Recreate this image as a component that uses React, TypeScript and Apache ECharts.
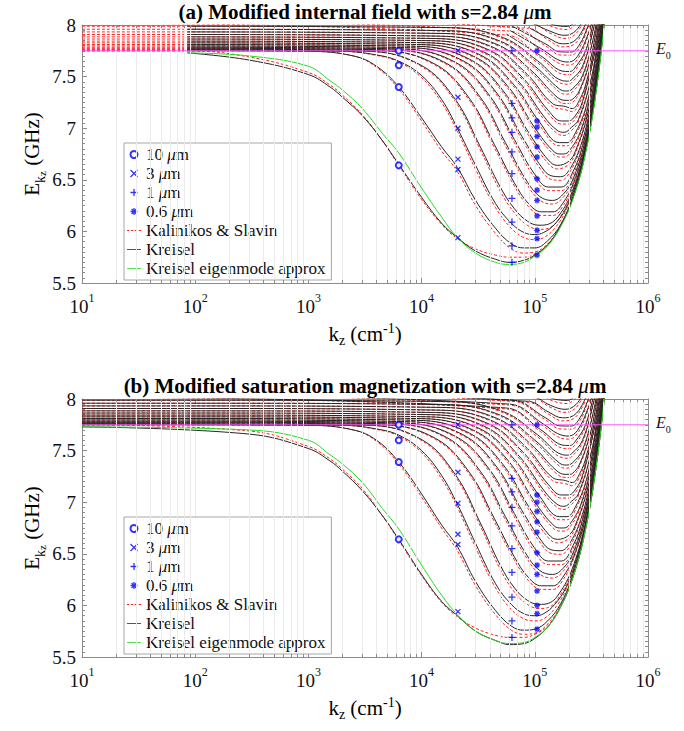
import React, { useEffect, useRef } from "react";
import * as echarts from "echarts";

const FONT = "Liberation Serif";
const AXIS_COLOR = "#8c8c8c";
const GRID_COLOR = "#ebebeb";
const BLUE = "#0000ff";
const RED = "#ff2020";
const BLACK = "#262626";
const GREEN_C = "#22dd22";
const E0 = 7.75;

// marker wavevectors (cm^-1)
const K_10UM = 6283;
const K_3UM = 20944;
const K_1UM = 62832;
const K_06UM = 104720;

const M10_A = [7.75, 7.61, 7.4, 6.64];
const M3_A = [7.75, 7.3, 7.0, 6.7, 6.6, 5.94];
const M1_A = [7.75, 7.24, 7.1, 6.96, 6.77, 6.56, 6.32, 6.09, 5.86, 5.7];
const M06_A = [7.75, 7.07, 7.01, 6.92, 6.82, 6.72, 6.51, 6.4, 6.3, 6.15, 6.01, 5.93, 5.77];
const M10_B = [7.75, 7.6, 7.39, 6.64];
const M3_B = [7.75, 7.29, 6.99, 6.69, 6.59, 5.94];
const M1_B = [7.75, 7.23, 7.1, 6.95, 6.77, 6.55, 6.32, 6.08, 5.85, 5.69];
const M06_B = [7.75, 7.07, 7.0, 6.91, 6.81, 6.71, 6.51, 6.39, 6.3, 6.14, 6.0, 5.92, 5.77];

// ---- Kreisel branches, panel (a): [k (cm^-1), E (GHz)]
const K0 = [[10, 7.73], [85, 7.73], [300, 7.66], [1000, 7.52], [1550, 7.4], [2000, 7.3], [3000, 7.12], [4500, 6.88], [6283, 6.65], [10000, 6.33], [15000, 6.08], [20700, 5.94], [30000, 5.81], [45000, 5.73], [60000, 5.7], [80000, 5.72], [100000, 5.77], [130000, 5.87], [170000, 6.06], [220000, 6.34], [280000, 6.76], [350000, 7.38], [420000, 8.12]];
const K1 = [[10, 7.75], [85, 7.75], [1000, 7.745], [2500, 7.7], [4000, 7.6], [6283, 7.4], [10000, 7.1], [15000, 6.82], [20700, 6.62], [30000, 6.3], [45000, 6.03], [62000, 5.88], [80000, 5.84], [100000, 5.84], [130000, 5.91], [170000, 6.07], [220000, 6.36], [280000, 6.79], [350000, 7.41], [420000, 8.15]];
const K2 = [[10, 7.756], [85, 7.756], [2000, 7.745], [4000, 7.71], [6283, 7.65], [10000, 7.51], [15000, 7.28], [20700, 7.0], [30000, 6.64], [45000, 6.27], [62000, 6.08], [80000, 5.99], [100000, 5.97], [120000, 5.99], [150000, 6.07], [190000, 6.23], [240000, 6.52], [300000, 6.96], [360000, 7.51], [420000, 8.16]];
const K3 = [[10, 7.76], [85, 7.76], [3300, 7.745], [9900, 7.61], [19800, 7.28], [33000, 6.82], [49500, 6.43], [66000, 6.22], [85800, 6.1], [108900, 6.06], [132000, 6.07], [170000, 6.18], [220000, 6.42], [280000, 6.82], [350000, 7.43], [420000, 8.17]];
const K4 = [[10, 7.767], [85, 7.767], [4400, 7.75], [13200, 7.62], [26400, 7.29], [44000, 6.84], [66000, 6.47], [88000, 6.27], [114400, 6.19], [145200, 6.19], [176000, 6.27], [220000, 6.47], [280000, 6.85], [350000, 7.45], [420000, 8.18]];
const K5 = [[10, 7.775], [85, 7.775], [5500, 7.758], [16500, 7.63], [33000, 7.3], [55000, 6.86], [82500, 6.51], [110000, 6.34], [143000, 6.3], [181500, 6.37], [220000, 6.52], [280000, 6.89], [350000, 7.48], [420000, 8.19]];
const K6 = [[10, 7.785], [85, 7.785], [6600, 7.768], [19800, 7.64], [39600, 7.32], [66000, 6.89], [99000, 6.56], [132000, 6.43], [171600, 6.43], [217800, 6.58], [264000, 6.83], [320000, 7.24], [380000, 7.8], [420000, 8.21]];
const K7 = [[10, 7.797], [85, 7.797], [7700, 7.78], [23100, 7.655], [46200, 7.34], [77000, 6.92], [115500, 6.62], [138600, 6.54], [169400, 6.53], [200200, 6.59], [254100, 6.83], [308000, 7.19], [360000, 7.64], [400000, 8.05]];
const K8 = [[10, 7.811], [85, 7.811], [8800, 7.794], [26400, 7.67], [52800, 7.36], [88000, 6.96], [132000, 6.69], [158400, 6.64], [200000, 6.68], [228800, 6.78], [290400, 7.12], [352000, 7.61], [400000, 8.09]];
const K9 = [[10, 7.827], [85, 7.827], [9900, 7.81], [29700, 7.69], [59400, 7.39], [99000, 7.01], [148500, 6.77], [173300, 6.75], [198000, 6.77], [257400, 6.99], [326700, 7.45], [380000, 7.93], [410000, 8.2]];
const K10 = [[10, 7.844], [85, 7.844], [11000, 7.828], [33000, 7.71], [66000, 7.415], [110000, 7.06], [165000, 6.86], [192500, 6.86], [220000, 6.92], [286000, 7.22], [363000, 7.82], [400000, 8.15]];
const K11 = [[10, 7.864], [85, 7.864], [12100, 7.848], [36300, 7.733], [72600, 7.447], [121000, 7.11], [157300, 6.98], [181500, 6.96], [211800, 7.01], [242000, 7.08], [314600, 7.48], [360000, 7.85], [390000, 8.13]];
const K12 = [[10, 7.885], [85, 7.885], [13200, 7.869], [39600, 7.757], [79200, 7.482], [132000, 7.17], [171600, 7.07], [198000, 7.07], [231000, 7.13], [264000, 7.26], [343200, 7.77], [380000, 8.09]];
const K13 = [[10, 7.908], [85, 7.908], [14300, 7.892], [42900, 7.784], [85800, 7.521], [143000, 7.24], [185900, 7.21], [214500, 7.19], [250000, 7.28], [286000, 7.45], [343200, 7.83], [370000, 8.06]];
const K14 = [[10, 7.933], [85, 7.933], [15400, 7.918], [46200, 7.813], [92400, 7.562], [154000, 7.31], [184800, 7.27], [200200, 7.27], [215600, 7.28], [246400, 7.36], [308000, 7.66], [350000, 7.96], [370000, 8.13]];
const K15 = [[10, 7.959], [85, 7.959], [16500, 7.945], [49500, 7.844], [99000, 7.606], [165000, 7.38], [189750, 7.36], [214500, 7.38], [264000, 7.51], [330000, 7.88], [360000, 8.11]];
const K16 = [[10, 7.988], [85, 7.988], [17600, 7.974], [52800, 7.877], [105600, 7.654], [176000, 7.46], [193600, 7.456], [211200, 7.47], [264000, 7.6], [334400, 7.99], [350000, 8.1]];
const K17 = [[10, 8.018], [56100, 7.913], [112200, 7.704], [187000, 7.55], [205700, 7.55], [224400, 7.58], [280500, 7.75], [336600, 8.08]];
const K18 = [[10, 8.051], [59400, 7.951], [118800, 7.758], [158400, 7.666], [198000, 7.641], [237600, 7.694], [297000, 7.918], [330000, 8.1]];
const K19 = [[10, 8.085], [62700, 7.99], [125400, 7.815], [167200, 7.74], [209000, 7.738], [250800, 7.818], [292600, 7.981], [310000, 8.06]];
const K20 = [[10, 8.158], [88000, 7.977], [132000, 7.874], [176000, 7.818], [220000, 7.84], [264000, 7.949], [297000, 8.088]];
const K21 = [[10, 8.195], [92400, 8.026], [138600, 7.937], [184800, 7.9], [231000, 7.946], [277200, 8.086]];
const K22 = [[10, 8.24], [100000, 8.07], [145200, 8.003], [193600, 7.986], [242000, 8.058]];

// ---- Kalinikos & Slavin branches, panel (a)
const S0 = [[10, 7.75], [85, 7.75], [300, 7.69], [1000, 7.54], [1550, 7.42], [2000, 7.32], [3000, 7.13], [4500, 6.88], [6283, 6.64], [10000, 6.31], [15000, 6.07], [20700, 5.93], [30000, 5.83], [45000, 5.77], [60000, 5.75], [80000, 5.75], [100000, 5.78], [130000, 5.87], [170000, 6.06], [220000, 6.34], [280000, 6.76], [350000, 7.38], [420000, 8.12]];
const S1 = [[10, 7.75], [85, 7.75], [1000, 7.745], [2500, 7.7], [4000, 7.59], [6283, 7.38], [10000, 7.07], [15000, 6.78], [20700, 6.58], [30000, 6.25], [45000, 5.98], [62000, 5.83], [80000, 5.79], [100000, 5.8], [130000, 5.88], [170000, 6.06], [220000, 6.36], [280000, 6.79], [350000, 7.41], [420000, 8.15]];
const S2 = [[10, 7.756], [85, 7.756], [2000, 7.745], [4000, 7.705], [6283, 7.64], [10000, 7.49], [15000, 7.25], [20700, 6.97], [30000, 6.6], [45000, 6.23], [62000, 6.03], [80000, 5.94], [100000, 5.92], [120000, 5.94], [150000, 6.03], [190000, 6.21], [240000, 6.51], [300000, 6.96], [360000, 7.51], [420000, 8.16]];
const S3 = [[10, 7.76], [85, 7.76], [3300, 7.745], [9900, 7.6], [19800, 7.26], [33000, 6.79], [49500, 6.39], [66000, 6.18], [85800, 6.06], [108900, 6.02], [132000, 6.03], [170000, 6.15], [220000, 6.41], [280000, 6.82], [350000, 7.43], [420000, 8.17]];
const S4 = [[10, 7.767], [85, 7.767], [4400, 7.75], [13200, 7.61], [26400, 7.27], [44000, 6.81], [66000, 6.44], [88000, 6.24], [114400, 6.155], [145200, 6.155], [176000, 6.24], [220000, 6.45], [280000, 6.85], [350000, 7.45], [420000, 8.18]];
const S5 = [[10, 7.775], [85, 7.775], [5500, 7.758], [16500, 7.62], [33000, 7.28], [55000, 6.83], [82500, 6.48], [110000, 6.305], [143000, 6.265], [181500, 6.34], [220000, 6.5], [280000, 6.88], [350000, 7.48], [420000, 8.19]];
const S6 = [[10, 7.785], [85, 7.785], [6600, 7.768], [19800, 7.63], [39600, 7.3], [66000, 6.86], [99000, 6.525], [132000, 6.395], [171600, 6.395], [217800, 6.55], [264000, 6.82], [320000, 7.24], [380000, 7.8], [420000, 8.21]];
const S7 = [[10, 7.797], [85, 7.797], [7700, 7.78], [23100, 7.645], [46200, 7.32], [77000, 6.89], [115500, 6.585], [138600, 6.505], [169400, 6.495], [200200, 6.56], [254100, 6.81], [308000, 7.18], [360000, 7.64], [400000, 8.05]];
const S8 = [[10, 7.811], [85, 7.811], [8800, 7.794], [26400, 7.66], [52800, 7.34], [88000, 6.93], [132000, 6.655], [158400, 6.605], [200000, 6.65], [228800, 6.76], [290400, 7.11], [352000, 7.61], [400000, 8.09]];
const S9 = [[10, 7.827], [85, 7.827], [9900, 7.81], [29700, 7.68], [59400, 7.37], [99000, 6.98], [148500, 6.74], [173300, 6.72], [198000, 6.74], [257400, 6.97], [326700, 7.44], [380000, 7.93], [410000, 8.2]];
const S10 = [[10, 7.844], [85, 7.844], [11000, 7.828], [33000, 7.7], [66000, 7.395], [110000, 7.03], [165000, 6.83], [192500, 6.83], [220000, 6.89], [286000, 7.2], [363000, 7.81], [400000, 8.15]];
const S11 = [[10, 7.864], [85, 7.864], [12100, 7.848], [36300, 7.723], [72600, 7.427], [121000, 7.08], [157300, 6.95], [181500, 6.93], [211800, 6.98], [242000, 7.06], [314600, 7.47], [360000, 7.85], [390000, 8.13]];
const S12 = [[10, 7.885], [85, 7.885], [13200, 7.869], [39600, 7.747], [79200, 7.462], [132000, 7.14], [171600, 7.04], [198000, 7.04], [231000, 7.1], [264000, 7.24], [343200, 7.76], [380000, 8.09]];
const S13 = [[10, 7.908], [85, 7.908], [14300, 7.892], [42900, 7.774], [85800, 7.501], [143000, 7.21], [185900, 7.18], [214500, 7.16], [250000, 7.25], [286000, 7.43], [343200, 7.82], [370000, 8.06]];
const S14 = [[10, 7.933], [85, 7.933], [15400, 7.918], [46200, 7.803], [92400, 7.542], [154000, 7.28], [184800, 7.24], [200200, 7.24], [215600, 7.25], [246400, 7.34], [308000, 7.65], [350000, 7.96], [370000, 8.13]];
const S15 = [[10, 7.959], [85, 7.959], [16500, 7.945], [49500, 7.834], [99000, 7.586], [165000, 7.35], [189750, 7.33], [214500, 7.35], [264000, 7.49], [330000, 7.87], [360000, 8.11]];
const S16 = [[10, 7.988], [85, 7.988], [17600, 7.974], [52800, 7.867], [105600, 7.634], [176000, 7.43], [193600, 7.426], [211200, 7.44], [264000, 7.58], [334400, 7.98], [350000, 8.1]];
const S17 = [[10, 8.018], [56100, 7.903], [112200, 7.684], [187000, 7.52], [205700, 7.52], [224400, 7.55], [280500, 7.73], [336600, 8.07]];
const S18 = [[10, 8.051], [59400, 7.941], [118800, 7.738], [158400, 7.636], [198000, 7.611], [237600, 7.664], [297000, 7.9], [330000, 8.09]];
const S19 = [[10, 8.085], [62700, 7.98], [125400, 7.795], [167200, 7.71], [209000, 7.708], [250800, 7.79], [292600, 7.965], [310000, 8.05]];
const S20 = [[10, 8.158], [88000, 7.967], [132000, 7.854], [176000, 7.788], [220000, 7.81], [264000, 7.925], [297000, 8.07]];
const S21 = [[10, 8.195], [92400, 8.016], [138600, 7.917], [184800, 7.87], [231000, 7.916], [277200, 8.066]];
const S22 = [[10, 8.24], [100000, 8.06], [145200, 7.98], [193600, 7.956], [242000, 8.04]];

// ---- panel (b): lowest branches sit lower near their minima
const K0_B = [[10, 7.73], [300, 7.66], [1000, 7.52], [1550, 7.4], [2000, 7.3], [3000, 7.11], [4500, 6.87], [6283, 6.64], [10000, 6.3], [15000, 6.04], [20700, 5.9], [30000, 5.75], [45000, 5.66], [60000, 5.62], [80000, 5.63], [100000, 5.68], [130000, 5.79], [170000, 5.99], [220000, 6.29], [280000, 6.73], [350000, 7.36], [420000, 8.1]];
const K1_B = [[10, 7.75], [1000, 7.745], [2500, 7.7], [4000, 7.6], [6283, 7.39], [10000, 7.08], [15000, 6.78], [20700, 6.57], [30000, 6.23], [45000, 5.95], [62000, 5.8], [80000, 5.76], [100000, 5.77], [130000, 5.85], [170000, 6.02], [220000, 6.32], [280000, 6.77], [350000, 7.4], [420000, 8.14]];
const K2_B = [[10, 7.756], [2000, 7.745], [4000, 7.71], [6283, 7.65], [10000, 7.5], [15000, 7.26], [20700, 6.98], [30000, 6.6], [45000, 6.21], [62000, 6.01], [80000, 5.92], [100000, 5.9], [120000, 5.92], [150000, 6.01], [190000, 6.18], [240000, 6.49], [300000, 6.94], [360000, 7.5], [420000, 8.15]];
const K3_B = [[10, 7.76], [3300, 7.745], [9900, 7.61], [19800, 7.27], [33000, 6.8], [49500, 6.39], [66000, 6.17], [85800, 6.05], [108900, 6.01], [132000, 6.02], [170000, 6.14], [220000, 6.39], [280000, 6.8], [350000, 7.42], [420000, 8.17]];
const S0_B = [[10, 7.75], [300, 7.69], [1000, 7.54], [1550, 7.42], [2000, 7.32], [3000, 7.13], [4500, 6.87], [6283, 6.63], [10000, 6.29], [15000, 6.03], [20700, 5.89], [30000, 5.78], [45000, 5.71], [60000, 5.69], [80000, 5.69], [100000, 5.72], [130000, 5.8], [170000, 6.0], [220000, 6.29], [280000, 6.73], [350000, 7.36], [420000, 8.1]];
const S1_B = [[10, 7.75], [1000, 7.745], [2500, 7.7], [4000, 7.59], [6283, 7.37], [10000, 7.05], [15000, 6.75], [20700, 6.53], [30000, 6.19], [45000, 5.91], [62000, 5.76], [80000, 5.72], [100000, 5.73], [130000, 5.82], [170000, 6.0], [220000, 6.31], [280000, 6.77], [350000, 7.4], [420000, 8.14]];
const S2_B = [[10, 7.756], [2000, 7.745], [4000, 7.705], [6283, 7.64], [10000, 7.48], [15000, 7.23], [20700, 6.95], [30000, 6.56], [45000, 6.17], [62000, 5.96], [80000, 5.87], [100000, 5.85], [120000, 5.87], [150000, 5.97], [190000, 6.16], [240000, 6.48], [300000, 6.94], [360000, 7.5], [420000, 8.15]];
const S3_B = [[10, 7.76], [3300, 7.745], [9900, 7.6], [19800, 7.25], [33000, 6.77], [49500, 6.35], [66000, 6.13], [85800, 6.01], [108900, 5.97], [132000, 5.98], [170000, 6.11], [220000, 6.38], [280000, 6.8], [350000, 7.42], [420000, 8.17]];

// ---- Kreisel eigenmode approximation (lowest branch)
const GREEN_A = [[85, 7.73], [300, 7.7], [1000, 7.6], [1550, 7.46], [2000, 7.37], [3000, 7.19], [4500, 6.95], [6283, 6.76], [10000, 6.42], [15000, 6.14], [20700, 5.94], [30000, 5.79], [45000, 5.7], [60000, 5.68], [80000, 5.7], [100000, 5.76], [130000, 5.86], [170000, 6.05], [220000, 6.33], [280000, 6.75], [350000, 7.37], [420000, 8.1]];
const GREEN_B = [[10, 7.73], [300, 7.7], [1000, 7.6], [1550, 7.46], [2000, 7.37], [3000, 7.19], [4500, 6.94], [6283, 6.74], [10000, 6.39], [15000, 6.1], [20700, 5.91], [30000, 5.75], [45000, 5.66], [60000, 5.63], [80000, 5.64], [100000, 5.69], [130000, 5.79], [170000, 5.99], [220000, 6.29], [280000, 6.73], [350000, 7.36], [420000, 8.1]];

const KREISEL_A = [K0, K1, K2, K3, K4, K5, K6, K7, K8, K9, K10, K11, K12, K13, K14, K15, K16, K17, K18, K19, K20, K21, K22];
const KALINIKOS_A = [S0, S1, S2, S3, S4, S5, S6, S7, S8, S9, S10, S11, S12, S13, S14, S15, S16, S17, S18, S19, S20, S21, S22];
const KREISEL_B = [K0_B, K1_B, K2_B, K3_B, K4, K5, K6, K7, K8, K9, K10, K11, K12, K13, K14, K15, K16, K17, K18, K19, K20, K21, K22];
const KALINIKOS_B = [S0_B, S1_B, S2_B, S3_B, S4, S5, S6, S7, S8, S9, S10, S11, S12, S13, S14, S15, S16, S17, S18, S19, S20, S21, S22];

const DECADES = [10, 100, 1000, 10000, 100000];
const MULTS = [2, 3, 4, 5, 6, 7, 8, 9];
const MINOR_X = DECADES.flatMap((d) => MULTS.map((m) => d * m));

const PANELS = [
  {
    top: 25,
    title: "(a) Modified internal field with s=2.84 ",
    markers: [M10_A, M3_A, M1_A, M06_A],
    kreisel: KREISEL_A,
    kalinikos: KALINIKOS_A,
    green: GREEN_A,
    kreiselFrom: 85,
    legendTop: 143,
  },
  {
    top: 399,
    title: "(b) Modified saturation magnetization with s=2.84 ",
    markers: [M10_B, M3_B, M1_B, M06_B],
    kreisel: KREISEL_B,
    kalinikos: KALINIKOS_B,
    green: GREEN_B,
    kreiselFrom: 10,
    legendTop: 517,
  },
];

const X_PATH = "path://M0,0L10,10M10,0L0,10";
const PLUS_PATH = "path://M5,0L5,10M0,5L10,5";
const STAR_PATH = "path://M5,0L5,10M0,5L10,5M1.5,1.5L8.5,8.5M8.5,1.5L1.5,8.5";
const DASH_ICON = "path://M0,0h3v1h-3zM5,0h3v1h-3zM10,0h3v1h-3zM15,0h3v1h-3z";
const LINE_ICON = "path://M0,0h18v1h-18z";

const MARKER_DEFS = [
  { name: "10 μm", k: K_10UM, symbol: "emptyCircle", size: 6 },
  { name: "3 μm", k: K_3UM, symbol: X_PATH, size: 5 },
  { name: "1 μm", k: K_1UM, symbol: PLUS_PATH, size: 7 },
  { name: "0.6 μm", k: K_06UM, symbol: STAR_PATH, size: 6 },
];

function buildOption() {
  const grid = PANELS.map((p) => ({ left: 82, top: p.top, width: 566, height: 258 }));
  const xAxis: any[] = [];
  const yAxis: any[] = [];
  PANELS.forEach((_, i) => {
    xAxis.push({
      gridIndex: i,
      type: "log",
      logBase: 10,
      min: 10,
      max: 1e6,
      position: "bottom",
      axisLine: { show: true, lineStyle: { color: AXIS_COLOR, width: 1 } },
      axisTick: { show: true, inside: true, length: 5, lineStyle: { color: AXIS_COLOR } },
      splitLine: { show: true, lineStyle: { color: GRID_COLOR, width: 1 } },
      axisLabel: {
        margin: 9,
        formatter: (v: number) => `{b|10}{s|${Math.round(Math.log10(v))}}`,
        rich: {
          b: { fontFamily: FONT, fontSize: 19, color: "#111", lineHeight: 24, verticalAlign: "bottom" },
          s: { fontFamily: FONT, fontSize: 12, color: "#111", lineHeight: 12, verticalAlign: "top" },
        },
      },
    });
    xAxis.push({
      gridIndex: i,
      type: "log",
      logBase: 10,
      min: 10,
      max: 1e6,
      position: "top",
      axisLine: { show: true, lineStyle: { color: AXIS_COLOR, width: 1 } },
      axisTick: { show: true, inside: true, length: 5, lineStyle: { color: AXIS_COLOR } },
      splitLine: { show: false },
      axisLabel: { show: false },
    });
    yAxis.push({
      gridIndex: i,
      type: "value",
      min: 5.5,
      max: 8,
      interval: 0.5,
      position: "left",
      axisLine: { show: true, lineStyle: { color: AXIS_COLOR, width: 1 } },
      axisTick: { show: true, inside: true, length: 5, lineStyle: { color: AXIS_COLOR } },
      minorTick: { show: true, splitNumber: 10, length: 3, lineStyle: { color: AXIS_COLOR } },
      splitLine: { show: false },
      axisLabel: {
        margin: 6,
        fontFamily: FONT,
        fontSize: 19,
        color: "#111",
        formatter: (v: number) => String(Math.round(v * 10) / 10),
      },
    });
    yAxis.push({
      gridIndex: i,
      type: "value",
      min: 5.5,
      max: 8,
      interval: 0.5,
      position: "right",
      axisLine: { show: true, lineStyle: { color: AXIS_COLOR, width: 1 } },
      axisTick: { show: true, inside: true, length: 5, lineStyle: { color: AXIS_COLOR } },
      minorTick: { show: true, splitNumber: 10, length: 3, lineStyle: { color: AXIS_COLOR } },
      splitLine: { show: false },
      axisLabel: { show: false },
    });
  });

  const series: any[] = [];
  PANELS.forEach((p, i) => {
    const xi = i * 2;
    const yi = i * 2;
    const tickSegs: any[] = [];
    MINOR_X.forEach((v) => {
      tickSegs.push([{ coord: [v, 5.5] }, { coord: [v, 5.53], lineStyle: { color: AXIS_COLOR } }]);
      tickSegs.push([{ coord: [v, 8] }, { coord: [v, 7.97], lineStyle: { color: AXIS_COLOR } }]);
    });
    series.push({
      type: "line",
      xAxisIndex: xi,
      yAxisIndex: yi,
      data: [[10, 5.5]],
      symbol: "none",
      silent: true,
      z: 1,
      lineStyle: { width: 0 },
      markLine: {
        silent: true,
        symbol: ["none", "none"],
        label: { show: false },
        animation: false,
        lineStyle: { color: GRID_COLOR, width: 1, type: "solid" },
        data: [...MINOR_X.map((v) => ({ xAxis: v })), ...tickSegs],
      },
    });
    p.kalinikos.forEach((c) => {
      series.push({
        name: "Kalinikos & Slavin",
        type: "line",
        xAxisIndex: xi,
        yAxisIndex: yi,
        data: c,
        symbol: "none",
        smooth: 0.4,
        silent: true,
        z: 2,
        lineStyle: { color: RED, width: 1, type: [3, 2] },
      });
    });
    p.kreisel.forEach((c) => {
      series.push({
        name: "Kreisel",
        type: "line",
        xAxisIndex: xi,
        yAxisIndex: yi,
        data: c.filter((pt) => pt[0] >= p.kreiselFrom),
        symbol: "none",
        smooth: 0.4,
        silent: true,
        z: 3,
        lineStyle: { color: BLACK, width: 1 },
      });
    });
    series.push({
      name: "Kreisel eigenmode approx",
      type: "line",
      xAxisIndex: xi,
      yAxisIndex: yi,
      data: p.green,
      symbol: "none",
      smooth: 0.4,
      silent: true,
      z: 4,
      lineStyle: { color: GREEN_C, width: 1 },
    });
    series.push({
      name: "E0",
      type: "line",
      xAxisIndex: xi,
      yAxisIndex: yi,
      data: [[10, E0], [1e6, E0]],
      symbol: "none",
      silent: true,
      z: 5,
      lineStyle: { color: "#ff55ff", width: 1 },
      endLabel: {
        show: true,
        distance: 8,
        formatter: "{e|E}{s|0}",
        rich: {
          e: { fontFamily: FONT, fontStyle: "italic", fontSize: 16, color: "#111", lineHeight: 20, verticalAlign: "top" },
          s: { fontFamily: FONT, fontSize: 10, color: "#111", lineHeight: 10, verticalAlign: "bottom" },
        },
      },
    });
    MARKER_DEFS.forEach((m, j) => {
      series.push({
        name: m.name,
        type: "scatter",
        xAxisIndex: xi,
        yAxisIndex: yi,
        data: p.markers[j].map((e) => [m.k, e]),
        symbol: m.symbol,
        symbolSize: m.size,
        silent: true,
        z: 6,
        itemStyle:
          j === 0
            ? { color: BLUE, borderColor: BLUE, borderWidth: 1.2 }
            : { color: "none", borderColor: BLUE, borderWidth: 1.3 },
      });
    });
  });

  const legend = PANELS.map((p) => ({
    show: true,
    left: 124,
    top: p.legendTop,
    orient: "vertical",
    selectedMode: false,
    backgroundColor: "#ffffff",
    borderColor: "#a6a6a6",
    borderWidth: 1,
    borderRadius: 0,
    padding: [3, 6, 3, 3],
    itemWidth: 14,
    itemHeight: 7,
    itemGap: 2,
    textStyle: {
      fontFamily: FONT,
      fontSize: 17,
      color: "#111",
      lineHeight: 17,
      rich: { i: { fontFamily: FONT, fontStyle: "italic", fontSize: 17, color: "#111" } },
    },
    formatter: (name: string) => name.replace("μ", "{i|μ}"),
    data: [
      { name: "10 μm", icon: "emptyCircle", itemStyle: { color: BLUE, borderColor: BLUE, borderWidth: 1 } },
      { name: "3 μm", icon: X_PATH, itemStyle: { color: "none", borderColor: BLUE, borderWidth: 1.3 } },
      { name: "1 μm", icon: PLUS_PATH, itemStyle: { color: "none", borderColor: BLUE, borderWidth: 1.3 } },
      { name: "0.6 μm", icon: STAR_PATH, itemStyle: { color: "none", borderColor: BLUE, borderWidth: 1.3 } },
      { name: "Kalinikos & Slavin", icon: DASH_ICON, itemStyle: { color: RED, borderWidth: 0 } },
      { name: "Kreisel", icon: LINE_ICON, itemStyle: { color: BLACK, borderWidth: 0 } },
      { name: "Kreisel eigenmode approx", icon: LINE_ICON, itemStyle: { color: GREEN_C, borderWidth: 0 } },
    ],
  }));

  const titleRich = {
    b: { fontFamily: FONT, fontWeight: "bold", fontSize: 21, color: "#000" },
    mu: { fontFamily: FONT, fontStyle: "italic", fontSize: 21, color: "#000" },
  };
  const graphic: any[] = [];
  PANELS.forEach((p) => {
    graphic.push({
      type: "text",
      x: 365,
      y: p.top - 13,
      style: {
        text: `{b|${p.title}}{mu|μ}{b|m}`,
        rich: titleRich,
        fontFamily: FONT,
        align: "center",
        verticalAlign: "middle",
      },
    });
    graphic.push({
      type: "text",
      x: 365,
      y: p.top + 309,
      style: {
        text: "{a|k}{s|z}{a| (cm}{p|-1}{a|)}",
        fontFamily: FONT,
        align: "center",
        verticalAlign: "middle",
        rich: {
          a: { fontFamily: FONT, fontSize: 21, color: "#111", lineHeight: 26, verticalAlign: "middle" },
          s: { fontFamily: FONT, fontSize: 14, color: "#111", lineHeight: 14, verticalAlign: "bottom" },
          p: { fontFamily: FONT, fontSize: 14, color: "#111", lineHeight: 14, verticalAlign: "top" },
        },
      },
    });
    graphic.push({
      type: "text",
      x: 32,
      y: p.top + 129,
      rotation: Math.PI / 2,
      style: {
        text: "{a|E}{s|k}{z|z}{a| (GHz)}",
        fontFamily: FONT,
        align: "center",
        verticalAlign: "middle",
        rich: {
          a: { fontFamily: FONT, fontSize: 21, color: "#111", lineHeight: 30, verticalAlign: "middle" },
          s: { fontFamily: FONT, fontSize: 14, color: "#111", lineHeight: 22, verticalAlign: "bottom" },
          z: { fontFamily: FONT, fontSize: 11, color: "#111", lineHeight: 11, verticalAlign: "bottom" },
        },
      },
    });
  });

  return {
    animation: false,
    backgroundColor: "#ffffff",
    textStyle: { fontFamily: FONT },
    grid,
    xAxis,
    yAxis,
    legend,
    series,
    graphic,
  };
}

const FONT_CSS =
  ".echart-host svg text, .echart-host svg tspan { font-family: 'Liberation Serif', 'Times New Roman', serif !important; }";

export default function App() {
  const ref = useRef<HTMLDivElement>(null);
  useEffect(() => {
    if (!ref.current) return;
    const chart = echarts.init(ref.current, undefined, { renderer: "svg" });
    chart.setOption(buildOption() as any);
    return () => chart.dispose();
  }, []);
  return (
    <>
      <style>{FONT_CSS}</style>
      <div
        ref={ref}
        className="echart-host"
        style={{ position: "fixed", left: 0, top: 0, width: 684, height: 731, background: "#fff" }}
      />
    </>
  );
}
